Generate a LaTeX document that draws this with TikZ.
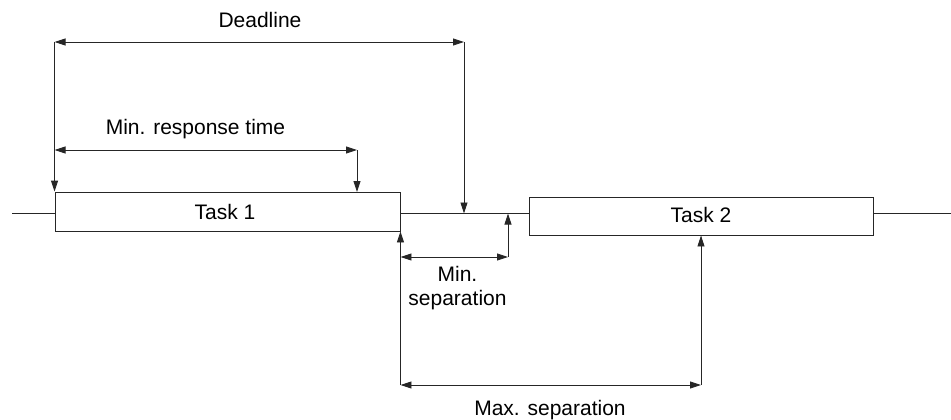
\documentclass[tikz,border=0pt]{standalone}
\usepackage{fontspec}
\setmainfont{Liberation Sans}
\usetikzlibrary{arrows.meta}
\begin{document}
\begin{tikzpicture}[x=1pt,y=-1pt,
  line/.style={draw=black!85, line width=0.9pt},
  dim/.style={line, {Triangle[length=11pt,width=7pt]}-{Triangle[length=11pt,width=7pt]}},
  tick/.style={line, -{Triangle[length=11pt,width=7pt]}},
  task/.style={draw=black!85, line width=0.9pt, rectangle, inner sep=0pt, fill=white},
  lbl/.style={anchor=base, inner sep=0pt, font=\fontsize{21}{23.5}\selectfont}
]
\useasboundingbox (0,0) rectangle (951,420);

% time line
\coordinate (t0) at (12,213.5);
\coordinate (t3) at (951,213.5);
\coordinate (dl) at (464,213.5);
\coordinate (ms) at (508,213.5);
\draw[line] (t0) -- (t3);

% tasks
\node[task, minimum width=345pt, minimum height=39pt] (task1) at (227.5,211.5) {};
\node[task, minimum width=344pt, minimum height=38pt] (task2) at (701,216) {};
\node[lbl] (task1txt) at (225,219.3) {Task 1};
\node[lbl] (task2txt) at (701,222.3) {Task 2};

% deadline
\coordinate (dA) at (task1.north west |- 0,42);
\coordinate (dB) at (dl |- 0,42);
\draw[tick] (dA) -- (task1.north west);
\draw[tick] (dB) -- (dl);
\draw[dim] (dA) -- (dB);
\node[lbl] (deadline) at (260,27.3) {Deadline};

% minimum response time
\coordinate (rA) at (task1.north west |- 0,150);
\coordinate (rB) at (357,150);
\coordinate (rC) at (357,192);
\draw[tick] (rB) -- (rC);
\draw[dim] (rA) -- (rB);
\node[lbl] (minresp) at (195.5,135) {Min. response time};

% minimum separation
\coordinate (sA) at (task1.south east |- 0,257);
\coordinate (sB) at (ms |- 0,257);
\draw[tick] (sB) -- (ms);
\draw[dim] (sA) -- (sB);
\node[lbl, align=center] (minsep) at (457.5,305) {Min.\\separation};

% maximum separation
\coordinate (xA) at (task1.south east |- 0,385);
\coordinate (xB) at (task2.south |- 0,385);
\draw[tick] (xA) -- (task1.south east);
\draw[tick] (xB) -- (task2.south);
\draw[dim] (xA) -- (xB);
\node[lbl] (maxsep) at (550,415) {Max. separation};
\end{tikzpicture}
\end{document}
